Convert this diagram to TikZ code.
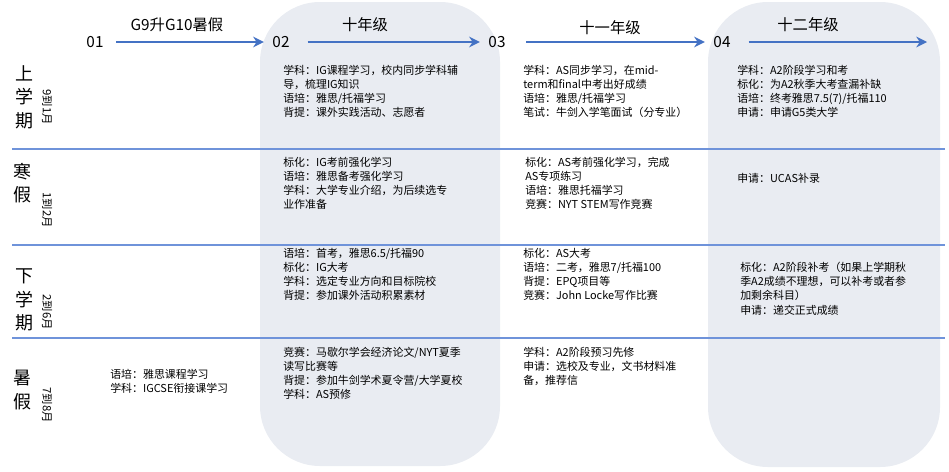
\documentclass[tikz,border=0pt]{standalone}
\usepackage{fontspec}
\setmainfont{Noto Sans CJK SC}
\usetikzlibrary{arrows.meta}
\begin{document}
\begin{tikzpicture}[x=0.75pt,y=-0.75pt,
  txt/.style={anchor=north west,align=left,inner sep=0pt,font=\fontsize{8.2}{10.6}\selectfont},
  num/.style={font=\fontsize{11.5}{13}\selectfont},
  head/.style={font=\fontsize{11.5}{13}\selectfont},
  big/.style={font=\fontsize{13.5}{17.5}\selectfont,align=center,inner sep=0pt},
  mon/.style={rotate=-90,font=\fontsize{8.5}{9}\selectfont,inner sep=0pt},
  arr/.style={-{Stealth[length=8pt,width=8pt]},line width=2pt,draw=arrblue},
  sep/.style={draw=sepblue,line width=0.8pt}]
\definecolor{panel}{HTML}{E9ECF2}
\definecolor{arrblue}{HTML}{4472C4}
\definecolor{sepblue}{HTML}{6F93DA}
\useasboundingbox (0,0) rectangle (949,471);
\fill[panel,rounded corners=45] (260,2) rectangle (500,466);
\fill[panel,rounded corners=45] (708,2) rectangle (940,467);
\foreach \y in {149,245,338} \draw[sep] (12,\y) -- (945,\y);
\node[num] (n1) at (95,42) {01};
\node[num] (n2) at (281,42) {02};
\node[num] (n3) at (497,42) {03};
\node[num] (n4) at (722,42) {04};
\coordinate (end) at (927,42);
\draw[arr] ([xshift=6]n1.east) -- ([xshift=-3]n2.west);
\draw[arr] ([xshift=10]n2.east) -- ([xshift=-3]n3.west);
\draw[arr] ([xshift=12]n3.east) -- ([xshift=-3]n4.west);
\draw[arr] ([xshift=10]n4.east) -- (end);
\node[head] (h1) at (177,25) {G9升G10暑假};
\node[head] (h2) at (365,25) {十年级};
\node[head] (h3) at (610,28) {十一年级};
\node[head] (h4) at (808,25) {十二年级};
\node[big] (r1) at (25,97) {上\\学\\期};
\node[mon] (m1) at (47,107) {9到1月};
\node[big] (r2) at (22,183) {寒\\假};
\node[mon] (m2) at (47,210) {1到2月};
\node[big] (r3) at (24,300) {下\\学\\期};
\node[mon] (m3) at (47,312) {2到6月};
\node[big] (r4) at (22,390) {暑\\假};
\node[mon] (m4) at (47,405) {7到8月};
\node[txt] (a1) at (283,65) {学科：IG课程学习，校内同步学科辅\\导，梳理IG知识\\语培：雅思/托福学习\\背提：课外实践活动、志愿者};
\node[txt] (b1) at (523,65) {学科：AS同步学习，在mid-\\term和final中考出好成绩\\语培：雅思/托福学习\\笔试：牛剑入学笔面试（分专业）};
\node[txt] (c1) at (737,65) {学科：A2阶段学习和考\\标化：为A2秋季大考查漏补缺\\语培：终考雅思7.5(7)/托福110\\申请：申请G5类大学};
\node[txt] (a2) at (283,157) {标化：IG考前强化学习\\语培：雅思备考强化学习\\学科：大学专业介绍，为后续选专\\业作准备};
\node[txt] (b2) at (525,157) {标化：AS考前强化学习，完成\\AS专项练习\\语培：雅思托福学习\\竞赛：NYT STEM写作竞赛};
\node[txt] (c2) at (737,173) {申请：UCAS补录};
\node[txt] (a3) at (283,248) {语培：首考，雅思6.5/托福90\\标化：IG大考\\学科：选定专业方向和目标院校\\背提：参加课外活动积累素材};
\node[txt] (b3) at (523,248) {标化：AS大考\\语培：二考，雅思7/托福100\\背提：EPQ项目等\\竞赛：John Locke写作比赛};
\node[txt] (c3) at (740,262) {标化：A2阶段补考（如果上学期秋\\季A2成绩不理想，可以补考或者参\\加剩余科目）\\申请：递交正式成绩};
\node[txt] (z4) at (110,369) {语培：雅思课程学习\\学科：IGCSE衔接课学习};
\node[txt] (a4) at (283,347) {竞赛：马歇尔学会经济论文/NYT夏季\\读写比赛等\\背提：参加牛剑学术夏令营/大学夏校\\学科：AS预修};
\node[txt] (b4) at (523,347) {学科：A2阶段预习先修\\申请：选校及专业，文书材料准\\备，推荐信};
\end{tikzpicture}
\end{document}
